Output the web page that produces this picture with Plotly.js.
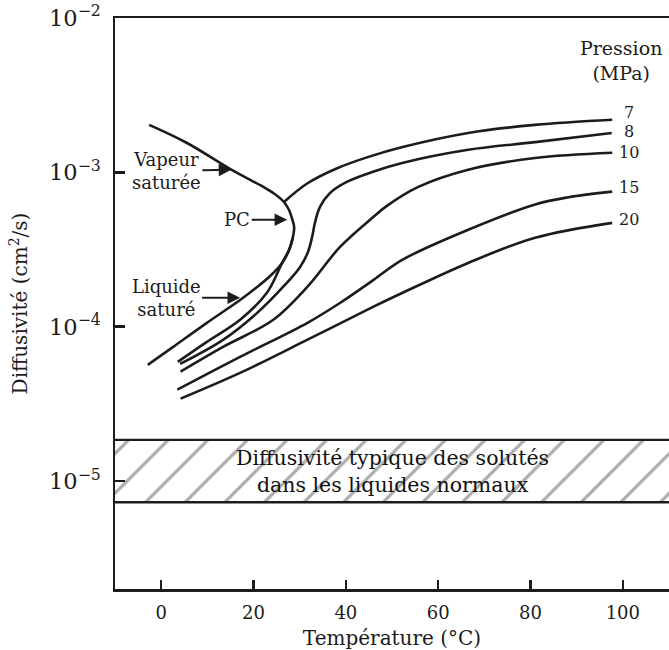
<!DOCTYPE html>
<html><head><meta charset="utf-8">
<script src="https://cdn.plot.ly/plotly-3.0.1.min.js"></script>
<style>html,body{margin:0;padding:0;background:#fff;}#chart{width:669px;height:650px;}</style>
</head><body><div id="chart"></div>
<script>
// ---- Data (T in °C, D in cm²/s) ----
const xTicks = [0, 20, 40, 60, 80, 100];
const xRange = [-10, 110];
const yRangeVals = [2e-6, 1e-2];

// Saturation curve: vapeur saturée -> PC -> liquide saturé
const satT = [-2.6, 5.6, 15.2, 19.3, 22.5, 24.9, 26.6, 27.7, 28.3, 28.8, 28.5, 27.7, 26.2, 23.6, 20.5, 17.1, 9.9, 2.6, -2.9];
const satD = [2.03e-3, 1.55e-3, 1.04e-3, 8.93e-4, 7.93e-4, 7.14e-4, 6.43e-4, 5.70e-4, 5.07e-4, 4.43e-4, 3.76e-4, 3.14e-4, 2.59e-4, 2.13e-4, 1.78e-4, 1.49e-4, 1.06e-4, 7.41e-5, 5.66e-5];

// 7 MPa (liquid branch joining the saturation curve, then vapour branch)
const p7LiqT = [3.6, 9.9, 17.1, 22.9, 26.2, 27.7, 28.5];
const p7LiqD = [5.92e-5, 7.98e-5, 1.11e-4, 1.66e-4, 2.59e-4, 3.14e-4, 3.76e-4];
const p7VapT = [26.6, 31.7, 38.0, 44.9, 52.3, 66.5, 81.0, 97.7];
const p7VapD = [6.43e-4, 8.5e-4, 1.06e-3, 1.26e-3, 1.46e-3, 1.80e-3, 2.03e-3, 2.19e-3];

const p8T = [4.1, 13.4, 20.8, 26.4, 30.1, 31.8, 32.7, 33.3, 34.4, 36.6, 40.2, 45.9, 52.2, 66.5, 81.0, 97.6];
const p8D = [5.74e-5, 8.22e-5, 1.23e-4, 1.81e-4, 2.44e-4, 3.05e-4, 3.82e-4, 4.70e-4, 5.97e-4, 7.36e-4, 8.67e-4, 1.01e-3, 1.15e-3, 1.40e-3, 1.57e-3, 1.80e-3];

const p10T = [4.2, 13.5, 24.3, 31.7, 38.8, 46.0, 48.6, 55.7, 66.5, 81.0, 97.7];
const p10D = [5.12e-5, 7.43e-5, 1.11e-4, 1.82e-4, 3.30e-4, 5.15e-4, 5.98e-4, 8.05e-4, 1.04e-3, 1.24e-3, 1.34e-3];

const p15T = [3.5, 17.2, 31.7, 38.8, 46.0, 52.3, 66.5, 81.0, 88.2, 97.7];
const p15D = [3.91e-5, 6.40e-5, 1.06e-4, 1.43e-4, 2.01e-4, 2.72e-4, 4.25e-4, 6.2e-4, 6.9e-4, 7.5e-4];

const p20T = [4.2, 17.2, 31.7, 46.0, 52.3, 66.5, 81.0, 97.7];
const p20D = [3.42e-5, 5.04e-5, 8.24e-5, 1.35e-4, 1.66e-4, 2.59e-4, 3.77e-4, 4.71e-4];

const pressureLabels = ['7', '8', '10', '15', '20'];

// Typical solute diffusivity band in normal liquids
const bandLow = 7.3e-6;
const bandHigh = 1.85e-5;

// ---- Drawing ----
const ink = '#1c1c1c';
const serif = 'DejaVu Serif';
const curve = (x, y) => ({x, y, type: 'scatter', mode: 'lines',
  line: {color: ink, width: 2.6, shape: 'spline', smoothing: 1}, hoverinfo: 'skip'});

const traces = [
  {x: [xRange[0], xRange[1], xRange[1], xRange[0]], y: [bandLow, bandLow, bandHigh, bandHigh],
   type: 'scatter', mode: 'none', fill: 'toself', fillcolor: '#ffffff',
   fillpattern: {shape: '/', fgcolor: '#ababab', bgcolor: '#ffffff', size: 28, solidity: 0.11},
   hoverinfo: 'skip'},
  {x: xRange, y: [bandHigh, bandHigh], type: 'scatter', mode: 'lines', line: {color: ink, width: 2.4}, hoverinfo: 'skip'},
  {x: xRange, y: [bandLow, bandLow], type: 'scatter', mode: 'lines', line: {color: ink, width: 2.4}, hoverinfo: 'skip'},
  curve(satT, satD),
  curve(p7LiqT, p7LiqD),
  curve(p7VapT, p7VapD),
  curve(p8T, p8D),
  curve(p10T, p10D),
  curve(p15T, p15D),
  curve(p20T, p20D)
];

const ends = [[p7VapT, p7VapD], [p8T, p8D], [p10T, p10D], [p15T, p15D], [p20T, p20D]];
const labelYShift = [7, 1, 0, 4.5, 3.5];
const annFont = {family: serif, size: 18, color: ink};

const annotations = ends.map((s, i) => ({
  x: s[0][s[0].length - 1], y: Math.log10(s[1][s[1].length - 1]), xref: 'x', yref: 'y',
  text: pressureLabels[i], showarrow: false, xanchor: 'center', yanchor: 'middle',
  xshift: 17, yshift: labelYShift[i], font: {family: serif, size: 16, color: ink}
}));

const arrowStyle = {showarrow: true, arrowhead: 2, arrowsize: 1.2, arrowwidth: 2.1, arrowcolor: ink, font: annFont};
annotations.push(
  {xref: 'paper', yref: 'paper', x: 0.913, y: 0.925, text: 'Pression<br>(MPa)', showarrow: false,
   xanchor: 'center', yanchor: 'middle', font: {family: serif, size: 19, color: ink}},
  {xref: 'x', yref: 'y', x: 50, y: (Math.log10(bandLow) + Math.log10(bandHigh)) / 2,
   text: 'Diffusivité typique des solutés<br>dans les liquides normaux', showarrow: false,
   xanchor: 'center', yanchor: 'middle', font: {family: serif, size: 20.5, color: '#111111'}},
  Object.assign({xref: 'x', yref: 'y', x: 15.2, y: Math.log10(1.04e-3), text: 'Vapeur<br>saturée', ax: -65, ay: 1}, arrowStyle),
  Object.assign({xref: 'x', yref: 'y', x: 27.3, y: -3.307, text: 'PC', ax: -50, ay: 0}, arrowStyle),
  Object.assign({xref: 'x', yref: 'y', x: 17.1, y: -3.812, text: 'Liquide<br>saturé', ax: -74, ay: 0}, arrowStyle)
);

const layout = {
  width: 669, height: 650,
  margin: {l: 115, r: 0, t: 18, b: 61, pad: 0},
  paper_bgcolor: '#ffffff', plot_bgcolor: '#ffffff',
  showlegend: false,
  font: {family: serif, size: 18, color: ink},
  xaxis: {
    range: xRange, tickvals: xTicks, ticktext: xTicks.map(String),
    ticks: 'inside', ticklen: 9, tickwidth: 2.5, tickcolor: ink,
    showline: true, linewidth: 2.5, linecolor: ink, mirror: true,
    showgrid: false, zeroline: false, ticklabelstandoff: 6,
    tickfont: {family: serif, size: 18, color: ink},
    title: {text: 'Température (°C)', font: {family: serif, size: 20, color: ink}, standoff: 10}
  },
  yaxis: {
    type: 'log', range: yRangeVals.map(Math.log10), dtick: 1, exponentformat: 'power',
    ticks: 'inside', ticklen: 10, tickwidth: 2.5, tickcolor: ink,
    showline: true, linewidth: 2.5, linecolor: ink,
    showgrid: false, zeroline: false, ticklabelstandoff: 8,
    tickfont: {family: serif, size: 18, color: ink},
    title: {text: 'Diffusivité (cm<sup>2</sup>/s)', font: {family: serif, size: 20, color: ink}, standoff: 16}
  },
  annotations: annotations
};

Plotly.newPlot('chart', traces, layout, {displayModeBar: false, staticPlot: true});
</script>
</body></html>
